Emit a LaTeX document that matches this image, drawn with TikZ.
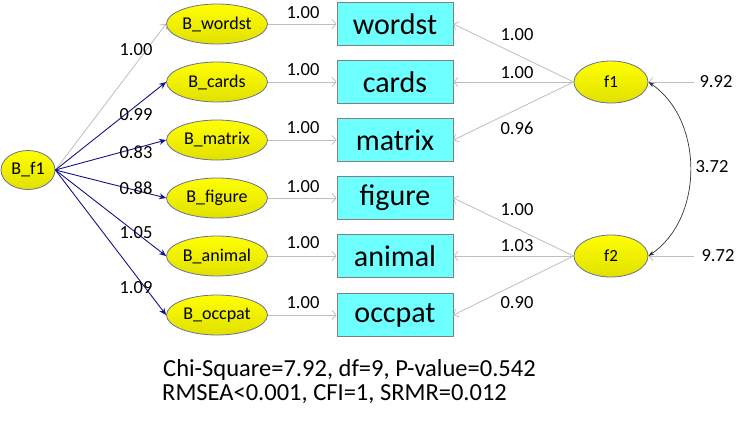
\documentclass[tikz,border=0pt]{standalone}
\usepackage{fontspec}
\setmainfont{Carlito}
\usetikzlibrary{arrows.meta,shapes.geometric}
\definecolor{ellborder}{RGB}{110,110,150}
\definecolor{boxfill}{RGB}{110,255,255}
\definecolor{boxborder}{RGB}{128,128,128}
\definecolor{navyline}{RGB}{20,20,140}
\definecolor{greyline}{RGB}{190,190,190}
\tikzset{
  latent/.style={ellipse, draw=ellborder, line width=0.8pt, top color=yellow, bottom color=yellow!88!black, inner sep=0pt, minimum width=101pt, minimum height=40pt, font=\fontsize{18}{20}\selectfont},
  factor/.style={latent, minimum width=74pt, minimum height=42pt, font=\fontsize{17}{19}\selectfont},
  obsbox/.style={rectangle, draw=boxborder, line width=0.8pt, fill=boxfill, inner sep=0pt, minimum width=116pt, minimum height=43pt, font=\fontsize{30}{32}\selectfont},
  num/.style={font=\fontsize{18.5}{20}\selectfont, inner sep=0pt},
  greyarrow/.style={draw=greyline, line width=0.8pt, -{Straight Barb[length=4pt,width=9pt]}},
  bluearrow/.style={draw=navyline, line width=0.9pt, -{Stealth[length=7pt,width=6pt]}},
  covarrow/.style={draw=black!80, line width=0.7pt, {Stealth[length=6pt,width=4pt]}-{Stealth[length=6pt,width=4pt]}},
  stat/.style={font=\fontsize{24.5}{26}\selectfont, inner sep=0pt, anchor=base west}
}
\begin{document}
\begin{tikzpicture}[x=1pt,y=-1pt]
\useasboundingbox (0,0) rectangle (737,421);
% nodes
\node[latent, minimum width=54pt, minimum height=39pt] (Bf1) at (28,170) {B\_f1};
\node[latent] (Bw) at (217,24) {B\_wordst};
\node[latent] (Bc) at (217,82) {B\_cards};
\node[latent] (Bm) at (217,140) {B\_matrix};
\node[latent] (Bfg) at (217,198) {B\_figure};
\node[latent] (Ba) at (217,256) {B\_animal};
\node[latent] (Bo) at (217,315) {B\_occpat};
\node[obsbox] (w) at (395,24) {wordst};
\node[obsbox] (c) at (395,82) {cards};
\node[obsbox] (m) at (395,140) {matrix};
\node[obsbox] (fg) at (395,198) {figure};
\node[obsbox] (a) at (395,256) {animal};
\node[obsbox] (o) at (395,315) {occpat};
\node[factor] (f1) at (611,82) {f1};
\node[factor] (f2) at (611,256) {f2};
\coordinate (v1) at (694,82);
\coordinate (v2) at (694,256);
% B_f1 loadings
\draw[greyarrow] (Bf1.east) -- (Bw.west);
\draw[bluearrow] (Bf1.east) -- (Bc.west);
\draw[bluearrow] (Bf1.east) -- (Bm.west);
\draw[bluearrow] (Bf1.east) -- (Bfg.west);
\draw[bluearrow] (Bf1.east) -- (Ba.west);
\draw[bluearrow] (Bf1.east) -- (Bo.west);
% B_x -> x
\foreach \s/\t in {Bw/w,Bc/c,Bm/m,Bfg/fg,Ba/a,Bo/o}{
  \draw[greyarrow] (\s.east) -- (\t.west);
}
% factor loadings
\draw[greyarrow] (f1.west) -- (w.east);
\draw[greyarrow] (f1.west) -- (c.east);
\draw[greyarrow] (f1.west) -- (m.east);
\draw[greyarrow] (f2.west) -- (fg.east);
\draw[greyarrow] (f2.west) -- (a.east);
\draw[greyarrow] (f2.west) -- (o.east);
% variances
\draw[greyarrow] (v1) -- (f1.east);
\draw[greyarrow] (v2) -- (f2.east);
% covariance
\draw[covarrow] (f1.east) .. controls (704,120) and (704,218) .. (f2.east);
% labels left
\node[num] (l1) at (136,50) {1.00};
\node[num] (l2) at (136,115) {0.99};
\node[num] (l3) at (136,152) {0.83};
\node[num] (l4) at (136,188) {0.88};
\node[num] (l5) at (136,233) {1.05};
\node[num] (l6) at (136,288) {1.09};
% labels middle
\node[num] (m1) at (303,13) {1.00};
\node[num] (m2) at (303,70) {1.00};
\node[num] (m3) at (303,128) {1.00};
\node[num] (m4) at (303,187) {1.00};
\node[num] (m5) at (303,243) {1.00};
\node[num] (m6) at (303,303) {1.00};
% labels right
\node[num] (r1) at (517,35) {1.00};
\node[num] (r2) at (517,73) {1.00};
\node[num] (r3) at (517,128) {0.96};
\node[num] (r4) at (517,210) {1.00};
\node[num] (r5) at (517,246) {1.03};
\node[num] (r6) at (517,303) {0.90};
% variance labels
\node[num] (vl1) at (716,82) {9.92};
\node[num] (vl2) at (718,256) {9.72};
\node[num] (cl) at (712,167) {3.72};
% fit statistics
\node[stat, text depth=0pt] (s1) at (163,376) {Chi-Square=7.92, df=9, P-value=0.542};
\node[stat, text height=15pt] (s2) at (162,400) {RMSEA<0.001, CFI=1, SRMR=0.012};
\end{tikzpicture}
\end{document}
